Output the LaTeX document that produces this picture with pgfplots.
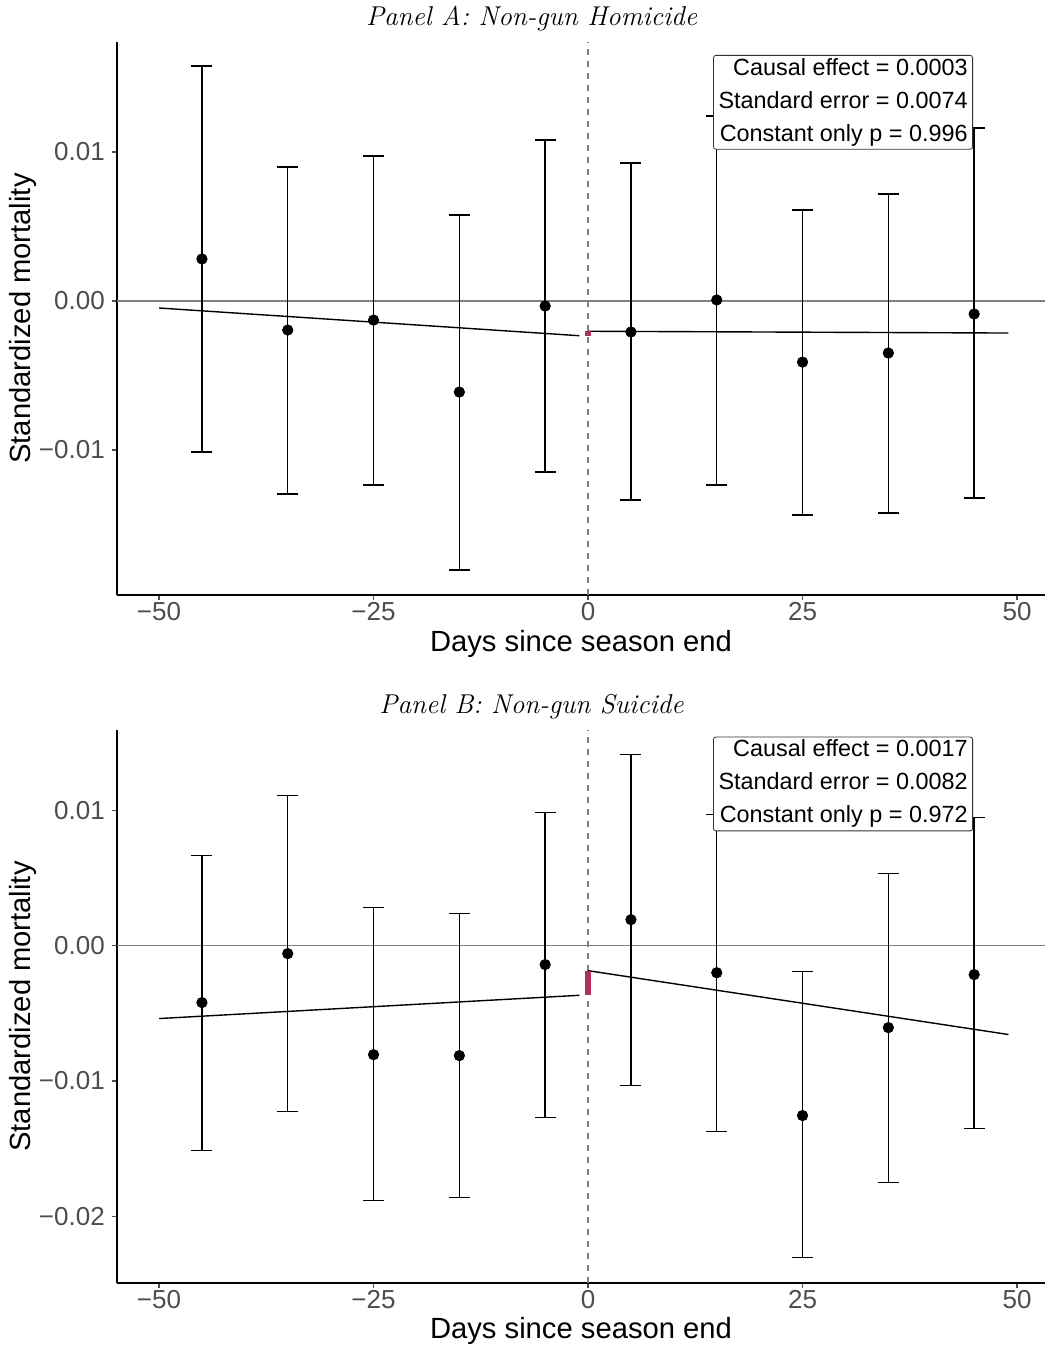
\documentclass[border=0pt]{standalone}
\usepackage{fontspec}
\setsansfont{Liberation Sans}
\usepackage{pgfplots}
\pgfplotsset{compat=1.18}
\usepackage{pgfplotstable}

\definecolor{jumpred}{RGB}{176,48,96}
\definecolor{tickgray}{RGB}{77,77,77}
\definecolor{refgray}{RGB}{128,128,128}

% x, point estimate, lower and upper end of the interval
\pgfplotstableread{
x    y        lo        hi
-45  0.00282  -0.01013  0.01577
-35  -0.00195 -0.01295  0.00900
-25  -0.00128 -0.01235  0.00973
-15  -0.00611 -0.01805  0.00577
-5   -0.00034 -0.01148  0.01080
5    -0.00208 -0.01336  0.00926
15   0.00007  -0.01235  0.01242
25   -0.00410 -0.01436  0.00610
35   -0.00349 -0.01423  0.00718
45   -0.00087 -0.01322  0.01161
}\homicide

\pgfplotstableread{
x    y        lo        hi
-45  -0.00421 -0.01515  0.00665
-35  -0.00059 -0.01227  0.01109
-25  -0.00806 -0.01885  0.00281
-15  -0.00813 -0.01863  0.00237
-5   -0.00140 -0.01271  0.00983
5    0.00192  -0.01035  0.01412
15   -0.00200 -0.01375  0.00968
25   -0.01256 -0.02306  -0.00192
35   -0.00606 -0.01752  0.00532
45   -0.00214 -0.01353  0.00946
}\suicide

\pgfplotsset{
  rdpanel/.style={
    scale only axis, width=464pt, height=276.5pt,
    xmin=-54.9, xmax=53.26,
    axis x line*=bottom, axis y line*=left,
    axis line style={-, line width=0.8pt, black},
    xtick={-50,-25,0,25,50},
    xticklabels={−50,−25,0,25,50},
    tick align=outside, major tick length=2.6pt,
    tick style={tickgray, line width=0.6pt},
    ticklabel style={font=\sffamily\fontsize{13}{13}\selectfont, text=tickgray},
    xticklabel style={yshift=2.5pt},
    scaled ticks=false,
    xlabel={Days since season end},
    ylabel={Standardized mortality},
    label style={font=\sffamily\fontsize{14.6}{14.6}\selectfont, text=black},
    ylabel style={at={(axis description cs:-0.1010,0.5)}, anchor=center},
    clip=false,
  },
  bins/.style={
    black, only marks, mark=*, mark size=2.6pt,
    error bars/.cd, y dir=both, y explicit,
    error bar style={line width=0.7pt, black},
    error mark options={rotate=90, black, mark size=5.25pt, line width=0.7pt},
  },
  fit/.style={black, line width=0.7pt, no marks},
}
\tikzset{
  statbox/.style={draw=black!80, fill=white, rounded corners=1.2pt, align=right,
    anchor=north east, inner xsep=2.5pt, inner ysep=1.5pt,
    font=\sffamily\fontsize{11.7}{16.5}\selectfont},
  paneltitle/.style={anchor=base, font=\itshape\fontsize{13.6}{15}\selectfont},
}

\begin{document}
\begin{tikzpicture}

\node[paneltitle] at (265.75pt,-12.5pt) {Panel A: Non-gun Homicide};

\begin{axis}[rdpanel, at={(58.5pt,-21pt)}, anchor=north west,
    ymin=-0.01973, ymax=0.01738,
    ytick={-0.01,0,0.01}, yticklabels={−0.01,0.00,0.01},
    xlabel style={at={(axis description cs:0.5,-0.103)}, anchor=base}]
\addplot[refgray, line width=0.6pt, no marks] coordinates {(-54.9,0) (53.26,0)};
\addplot[refgray, line width=0.6pt, dash pattern=on 3pt off 3pt, no marks] coordinates {(0,-0.01973) (0,0.01738)};
\addplot[bins] table[x=x, y=y, y error plus expr=\thisrow{hi}-\thisrow{y}, y error minus expr=\thisrow{y}-\thisrow{lo}] {\homicide};
\addplot[fit] coordinates {(-50,-0.00047) (-1,-0.00233)};
\addplot[fit] coordinates {(0,-0.00203) (49,-0.00215)};
\addplot[jumpred, line width=2.6pt, no marks] coordinates {(0,-0.00203) (0,-0.00235)};
\node[statbox] at (axis cs:44.87,0.01651) {Causal effect = 0.0003\\Standard error = 0.0074\\Constant only p = 0.996};
\end{axis}

\node[paneltitle] at (265.75pt,-356.5pt) {Panel B: Non-gun Suicide};

\begin{axis}[rdpanel, at={(58.5pt,-365pt)}, anchor=north west,
    ymin=-0.02494, ymax=0.01594,
    ytick={-0.02,-0.01,0,0.01}, yticklabels={−0.02,−0.01,0.00,0.01},
    xlabel style={at={(axis description cs:0.5,-0.0995)}, anchor=base}]
\addplot[refgray, line width=0.6pt, no marks] coordinates {(-54.9,0) (53.26,0)};
\addplot[refgray, line width=0.6pt, dash pattern=on 3pt off 3pt, no marks] coordinates {(0,-0.02494) (0,0.01594)};
\addplot[bins] table[x=x, y=y, y error plus expr=\thisrow{hi}-\thisrow{y}, y error minus expr=\thisrow{y}-\thisrow{lo}] {\suicide};
\addplot[fit] coordinates {(-50,-0.00539) (-1,-0.00367)};
\addplot[fit] coordinates {(0,-0.00185) (49,-0.00657)};
\addplot[jumpred, line width=2.6pt, no marks] coordinates {(0,-0.00185) (0,-0.00362)};
\node[statbox] at (axis cs:44.87,0.01545) {Causal effect = 0.0017\\Standard error = 0.0082\\Constant only p = 0.972};
\end{axis}

\pgfresetboundingbox
\path (0pt,0pt) rectangle (522.5pt,-675pt);
\end{tikzpicture}
\end{document}
